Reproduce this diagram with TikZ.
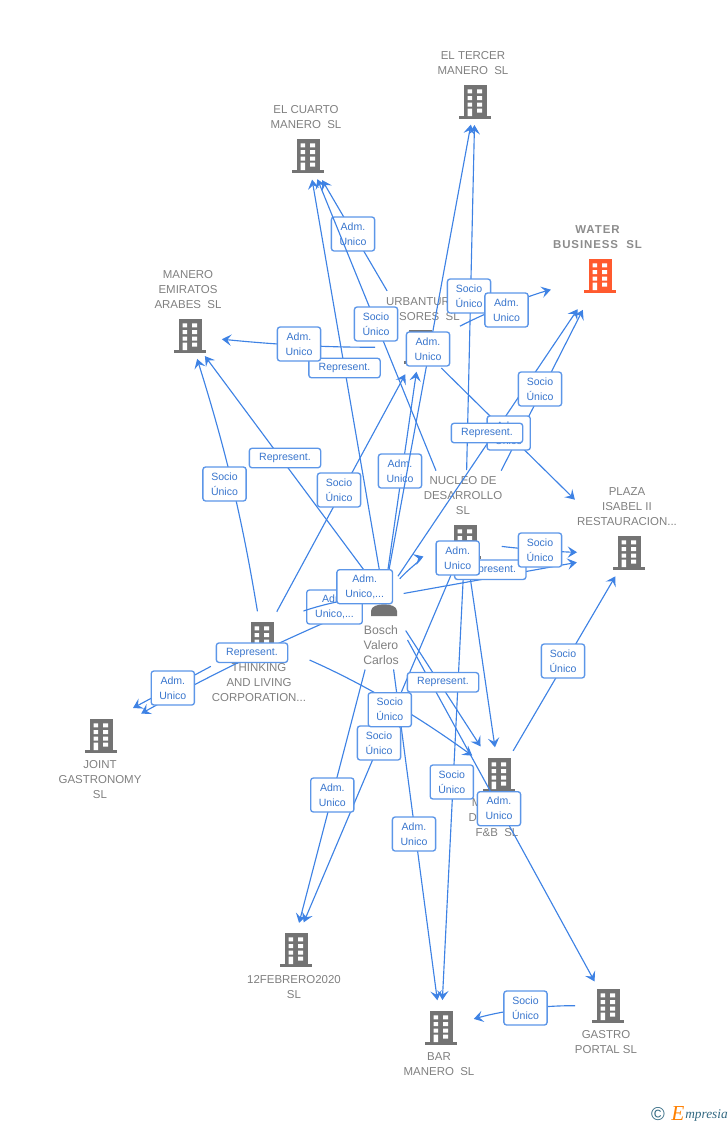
\documentclass[tikz,border=0pt]{standalone}
\usepackage{fontspec}
\setmainfont{Liberation Sans}
\newfontfamily\waterfont[LetterSpace=8]{Liberation Sans}
\newfontfamily\logofont{Liberation Serif}
\usetikzlibrary{arrows.meta}
\definecolor{linkblue}{RGB}{62,130,228}
\definecolor{boxblue}{RGB}{92,150,232}
\definecolor{iconorange}{RGB}{255,90,46}
\definecolor{logoteal}{RGB}{50,105,130}
\tikzset{
  link/.style={draw=linkblue, line width=0.85pt},
  arrowed/.style={-{Stealth[length=7pt,width=8.5pt,inset=2.8pt]}},
  trim/.style 2 args={shorten <=#1*0.75pt, shorten >=#2*0.75pt},
  box/.style={draw=boxblue, fill=white, rounded corners=2pt, line width=1pt, text=linkblue!90!black, inner sep=0pt, align=center, minimum width=32.4pt, minimum height=25.5pt, font=\fontsize{7.9}{11.25}\selectfont},
  longbox/.style={box, minimum width=53.5pt, minimum height=14.6pt},
  firm/.style={text=black!50, align=center, inner sep=0pt, font=\fontsize{8.6}{11.25}\selectfont},
  building/.pic={
    \fill[pic actions] (-11.5,-17) rectangle (11.5,14);
    \fill[pic actions] (-16,14) rectangle (16,17);
    \fill[white] (-7.5,-12.7) rectangle (-2.8,-8.7) (2.2,-12.7) rectangle (7.2,-8.7);
    \fill[white] (-7.5,-6) rectangle (-2.8,-2) (2.2,-6) rectangle (7.2,-2);
    \fill[white] (-7.5,0.7) rectangle (-2.8,4.7) (2.2,0.7) rectangle (7.2,4.7);
    \fill[white] (-7.5,6.7) rectangle (-2.8,14) (2.2,6.7) rectangle (7.2,10.7);
  },
  person/.pic={
    \fill[pic actions] (0,-3) circle (8);
    \fill[pic actions] (-13,19) -- (-13,14) .. controls (-13,5) and (13,5) .. (13,14) -- (13,19) -- cycle;
  }
}
\begin{document}
\begin{tikzpicture}[x=0.75pt,y=-0.75pt]
\useasboundingbox (0,0) rectangle (728,1125);

\foreach \nm/\x/\y in {tercer/475/102,cuarto/308/156,emiratos/190/336,urbantur/420/347,nucleo/465/542,plaza/629/553,thinking/262/639,joint/101/736,mfb/499/775,febrero/296/950,bar/441/1028,gastro/608/1006}{
  \coordinate (\nm) at (\x,\y);
  \pic[fill=black!55] at (\nm) {building};
}
\coordinate (water) at (600,276);
\pic[fill=iconorange] at (water) {building};
\coordinate (bosch) at (384,597);
\pic[fill=black!55] at (bosch) {person};
\coordinate (jointin) at (133,708);

\node[firm] (tercertxt) at (473,63.5) {EL TERCER\\MANERO\ \ SL};
\node[firm] (cuartotxt) at (306,117.5) {EL CUARTO\\MANERO\ \ SL};
\node[firm, text=black!45, font=\waterfont\bfseries\fontsize{8.6}{11.25}\selectfont] (watertxt) at (597.5,237) {WATER\\BUSINESS\ \ SL};
\node[firm] (emiratostxt) at (188,290) {MANERO\\EMIRATOS\\ARABES\ \ SL};
\node[firm] (urbanturtxt) at (418,309.5) {URBANTUR\\\phantom{ASE}SORES\ \ SL};
\node[firm] (nucleotxt) at (463,496) {NUCLEO DE\\DESARROLLO\\SL};
\node[firm] (plazatxt) at (627,507) {PLAZA\\ISABEL II\\RESTAURACION...};
\node[firm, font=\fontsize{9.2}{11.25}\selectfont] (boschtxt) at (381,645) {Bosch\\Valero\\Carlos};
\node[firm] (thinkingtxt) at (259,683) {THINKING\\AND LIVING\\CORPORATION...};
\node[firm] (jointtxt) at (100,780) {JOINT\\GASTRONOMY\\SL};
\node[firm] (mfbtxt) at (497,818) {M\phantom{ANERO}\\D\phantom{ESARRO}\\F\&B\ \ SL};
\node[firm] (febrerotxt) at (294,987.5) {12FEBRERO2020\\SL};
\node[firm] (bartxt) at (439,1064.5) {BAR\\MANERO\ \ SL};
\node[firm] (gastrotxt) at (606,1042.5) {GASTRO\\PORTAL SL};

\draw[link,arrowed,trim={65}{28}] (urbantur) -- (cuarto);
\draw[link,arrowed,trim={25}{24}] (bosch) -- (cuarto);
\draw[link,arrowed,trim={45}{51}] (urbantur) to[bend left=6] (water);
\draw[link,arrowed,trim={72}{23}] (nucleo) -- (tercer);
\draw[link,arrowed,trim={45}{32}] (urbantur) to[bend left=3] (emiratos);
\draw[link,arrowed,trim={31}{31}] (thinking) -- (urbantur);
\draw[link,arrowed,trim={25}{25}] (bosch) -- (urbantur);
\draw[link,arrowed,trim={30}{76}] (urbantur) -- (plaza);
\draw[link,arrowed,trim={25}{40}] (bosch) -- (water);
\draw[link,arrowed,trim={80}{38}] (nucleo) -- (water);
\draw[link,arrowed,trim={37}{52}] (nucleo) to[bend right=3] (plaza);
\draw[link,arrowed,trim={20}{53}] (bosch) -- (plaza);
\draw[link,arrowed,trim={33}{28}] (nucleo) -- (bar);
\draw[link,arrowed,trim={33}{28}] (nucleo) -- (mfb);
\draw[link,arrowed,trim={36}{30}] (nucleo) -- ([xshift=-3pt]febrero);
\draw[link,arrowed,trim={52}{33}] (thinking) to[bend left=6] (mfb);
\draw[link,arrowed,trim={75}{28}] (bosch) -- ([xshift=-3pt]febrero);
\draw[link,arrowed,trim={73}{28}] (bosch) -- (bar);
\draw[link,arrowed,trim={40}{34}] (bosch) -- (mfb);
\draw[link,arrowed,trim={49}{28}] (bosch) -- (gastro);
\draw[link,arrowed,trim={28}{27}] (mfb) -- (plaza);
\draw[link,arrowed,trim={33}{34}] (gastro) to[bend right=8] (bar);
\draw[link,arrowed,trim={58}{0}] (thinking) -- (jointin);
\draw[link,arrowed,trim={27}{46}] (bosch) to[bend right=3] (joint);
\draw[link,arrowed,trim={30}{25}] (bosch) -- (emiratos);
\draw[link,arrowed,trim={28}{24}] (thinking) to[bend right=4] (emiratos);

\node[box] (admcuarto) at (353,234) {Adm.\\Unico};
\node[box] (admmiddle) at (400,471) {Adm.\\Unico};
\node[box, minimum width=41.7pt] (admthinking) at (334.5,607) {Adm.\\Unico,...};

\draw[link,arrowed,trim={77}{25}] (nucleo) -- (cuarto);
\draw[link,arrowed,trim={25}{23}] (bosch) -- (tercer);
\draw[link,trim={25}{50}] (bosch) to[bend right=15] (thinking);
\draw[link,arrowed,trim={24}{44}] (bosch) to[bend left=15] (nucleo);

\node[longbox] (repcuarto) at (344.5,368) {Represent.};
\node[box] (socsores) at (376,324) {Socio\\Único};
\node[box] (soctercer) at (469,296) {Socio\\Único};
\node[box] (admwater) at (506.5,310) {Adm.\\Unico};
\node[box] (admemiratos) at (299,344) {Adm.\\Unico};
\node[box] (admsores) at (428,349) {Adm.\\Unico};
\node[box] (admplaza) at (508.7,433) {Adm.\\Unico};
\node[longbox] (repwater) at (487,433) {Represent.};
\node[box] (socwater) at (540,389) {Socio\\Único};
\node[longbox] (repemiratos) at (285,458) {Represent.};
\node[box] (socemiratos) at (224.5,484) {Socio\\Único};
\node[box] (socmiddle) at (339,490) {Socio\\Único};
\node[box, minimum width=41.7pt] (admbosch) at (364.7,586.7) {Adm.\\Unico,...};
\node[longbox] (repplaza) at (490.3,569.7) {Represent.};
\node[box] (admnucleo) at (457.7,558) {Adm.\\Unico};
\node[box] (socplaza) at (540,550) {Socio\\Único};
\node[box] (socmfb) at (563,661) {Socio\\Único};
\node[longbox] (repjoint) at (252,652.7) {Represent.};
\node[box] (admjoint) at (172.8,688) {Adm.\\Unico};
\node[box] (socfebrero) at (379,743) {Socio\\Único};
\node[box] (socthinking) at (389.8,709.7) {Socio\\Único};
\node[longbox] (repmfb) at (443,682.3) {Represent.};
\node[box] (socbar) at (451.8,782) {Socio\\Único};
\node[box] (admgastro) at (499,808.7) {Adm.\\Unico};
\node[box] (admfebrero) at (332.3,795) {Adm.\\Unico};
\node[box] (admbar) at (414,834) {Adm.\\Unico};
\node[box] (socgastro) at (525.5,1008) {Socio\\Único};

\node[inner sep=0pt, text=logoteal, font=\fontsize{14}{14}\selectfont] (logomark) at (658,1114) {©};
\node[inner sep=0pt, text=orange, font=\logofont\itshape\fontsize{16}{16}\selectfont] (logoe) at (678,1114) {E};
\node[inner sep=0pt, anchor=west, text=logoteal, font=\logofont\itshape\fontsize{10}{10}\selectfont] (logotxt) at (685,1115) {mpresia};
\end{tikzpicture}
\end{document}
